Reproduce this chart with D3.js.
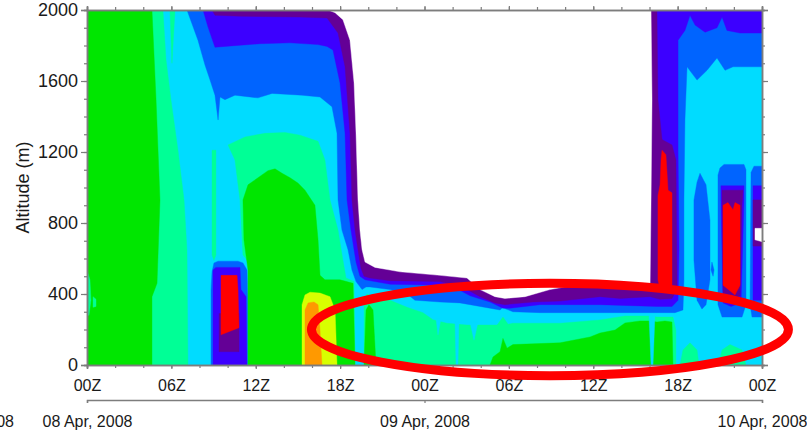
<!DOCTYPE html>
<html>
<head>
<meta charset="utf-8">
<script src="https://cdn.jsdelivr.net/npm/d3@7"></script>
<style>
  html, body { margin: 0; padding: 0; background: #ffffff; }
  svg { display: block; font-family: "Liberation Sans", Arial, Helvetica, sans-serif; }
</style>
</head>
<body>
<svg id="chart" width="807" height="436"></svg>
<script>
// ---- axes ------------------------------------------------------------
// hours since 08 Apr 2008 00Z
const hourTicks  = [0, 6, 12, 18, 24, 30, 36, 42, 48];
const hourLabels = ["00Z", "06Z", "12Z", "18Z", "00Z", "06Z", "12Z", "18Z", "00Z"];
const dayTicks   = [0, 24, 48];
const dayLabels  = ["08 Apr, 2008", "09 Apr, 2008", "10 Apr, 2008"];
const altTicks   = [0, 400, 800, 1200, 1600, 2000];

// ---- contour bands, outlines as [hour, altitude m] ---------------------
// level 4 (cyan) fills the whole domain; lower levels nest around the
// data gap, higher levels nest around the boundary-layer maxima.
const bandBlue = [
  [[7.11,2000],[48,2000],[48,1680],[45.94,1680],[45.37,1660],[44.80,1730],[44.09,1660],[43.38,1605],[42.67,1680],[42.52,1380],[42.45,930],[42.45,480],[42.38,310],[41.81,295],[40.53,295],[36.48,295],[32.21,295],[30.29,300],[29.80,315],[29.58,325],[29.37,310],[28.66,320],[27.24,340],[26.52,350],[25.10,355],[23.32,365],[22.76,400],[21.55,425],[20.12,440],[19.84,440],[19.56,425],[19.13,470],[18.84,535],[18.56,650],[18.13,760],[17.85,930],[17.78,1305],[17.42,1455],[16.57,1510],[15.29,1520],[13.16,1530],[12.16,1505],[10.52,1520],[9.81,1495],[9.46,1510],[9.32,1380],[9.10,1520],[8.75,1605],[8.39,1690],[7.89,1830]],
  [[8.82,0],[8.82,425],[8.89,525],[9.03,575],[9.32,585],[10.74,585],[11.09,575],[11.38,535],[11.45,385],[11.45,0]],
  [[43.59,1080],[44.02,1015],[44.30,815],[44.30,480],[44.02,340],[43.73,315],[43.38,365],[43.16,590],[43.16,930],[43.38,1030]],
  [[45.01,1110],[45.30,1130],[46.72,1130],[46.86,1100],[46.86,340],[46.58,270],[45.16,270],[44.87,340],[44.87,1070]],
  [[47.22,1085],[47.43,1120],[48,1120],[48,270],[47.29,270],[47.15,340]],
  [[44.44,580],[44.59,535],[44.52,500],[44.37,535]]
];

const bandViolet = [
  [[8.25,2000],[48,2000],[48,1870],[46.44,1870],[45.51,1885],[45.16,1960],[44.80,1900],[43.95,1875],[43.24,1915],[42.88,1970],[42.52,1885],[42.03,1830],[42.03,1210],[42.10,650],[42.03,365],[41.60,330],[40.53,330],[36.48,340],[32.21,340],[30.08,320],[29.58,320],[28.66,355],[27.24,390],[26.31,430],[25.10,450],[21.55,455],[19.77,480],[19.41,500],[19.13,580],[18.99,650],[18.77,760],[18.49,930],[18.35,1305],[17.99,1590],[17.49,1775],[17.07,1795],[16.43,1805],[14.44,1815],[12.30,1810],[9.81,1795],[9.10,1790],[8.60,1905]],
  [[8.96,0],[8.96,535],[9.17,550],[10.88,550],[10.95,425],[11.31,385],[11.38,0]],
  [[45.08,1010],[46.72,1010],[46.72,930],[46.51,350],[45.80,330],[45.23,350],[45.08,930]],
  [[47.36,1010],[48,1010],[48,365],[47.36,365]]
];

const bandPurple = [
  [[8.89,2000],[40.53,2000],[40.60,1495],[40.89,1270],[41.60,1240],[41.88,1155],[41.96,425],[41.60,375],[40.75,370],[40.04,385],[37.90,375],[36.48,385],[33.64,360],[31.72,355],[29.72,340],[29.01,350],[27.95,385],[27.02,425],[26.31,445],[25.10,470],[21.55,475],[20.12,490],[19.70,500],[19.48,545],[19.27,650],[19.06,760],[18.84,930],[18.70,1305],[18.35,1680],[17.85,1870],[17.07,1955],[15.15,1960],[10.88,1965],[9.10,1970]],
  [[9.39,75],[9.39,290],[10.81,290],[10.81,75]],
  [[45.16,985],[46.65,985],[46.58,900],[46.44,390],[45.80,365],[45.23,390],[45.16,900]],
  [[47.36,930],[48,930],[48,670],[47.36,670]]
];

const noData = [
  [[17.14,2000],[40.11,2000],[40.18,1495],[40.11,930],[40.04,440],[37.19,460],[34.70,450],[32.92,425],[31.15,385],[29.72,375],[29.01,385],[27.95,425],[27.02,490],[25.10,505],[22.26,525],[21.55,535],[20.48,550],[19.77,580],[19.56,650],[19.41,760],[19.27,930],[19.13,1305],[18.99,1590],[18.70,1830],[18.20,1945],[17.64,1985]],
  [[47.50,770],[48,770],[48,695],[47.50,705]]
];

const bandAqua = [
  [[0,2000],[5.40,2000],[5.62,1720],[5.97,1495],[6.47,1210],[6.90,930],[7.11,650],[7.18,0],[0,0]],
  [[5.90,2000],[6.26,2000],[6.04,1700]],
  [[8.89,1210],[9.17,1210],[9.17,620],[9.03,590],[8.89,620]],
  [[10.03,1240],[11.24,1285],[12.66,1305],[14.08,1310],[15.15,1295],[16.43,1260],[16.92,1155],[17.28,930],[17.85,760],[18.20,590],[18.42,490],[18.99,470],[19.06,0],[11.45,0],[11.45,585],[11.09,620],[10.88,930],[10.52,1155]],
  [[19.70,0],[19.70,365],[19.91,400],[20.34,385],[21.55,365],[22.76,325],[23.89,295],[24.60,255],[25.60,235],[27.02,225],[29.16,225],[29.58,270],[29.94,230],[30.29,235],[33.64,235],[36.48,254],[38.26,276],[40.04,276],[40.53,270],[41.67,270],[41.88,195],[41.88,0]],
  [[42.17,0],[42.38,85],[42.88,125],[43.38,85],[43.52,0]],
  [[44.87,0],[45.16,85],[45.72,115],[46.58,85],[46.86,0]]
];

const bandGreen = [
  [[0,2000],[4.62,2000],[4.91,1495],[5.19,930],[4.98,460],[4.62,385],[4.62,0],[0,0]],
  [[11.45,0],[11.45,535],[11.16,705],[11.09,930],[11.45,1015],[12.16,1055],[12.87,1095],[13.37,1105],[13.87,1080],[14.44,1055],[15.00,1025],[15.50,985],[16.21,900],[16.43,705],[16.57,505],[16.92,480],[17.99,480],[18.92,460],[19.06,0]],
  [[19.70,0],[19.84,310],[20.05,340],[20.34,310],[20.55,0]],
  [[28.66,0],[28.87,45],[29.37,75],[29.58,150],[29.87,95],[30.29,115],[33.64,125],[35.77,158],[36.48,180],[37.55,197],[38.26,237],[39.32,248],[40.04,248],[40.53,242],[41.10,248],[41.60,242],[41.67,0]]
];

const bandYellow = [
  [[15.29,0],[15.29,340],[15.50,395],[15.86,410],[16.57,405],[17.28,385],[17.64,310],[17.78,0]]
];

const bandOrange = [
  [[15.50,0],[15.50,310],[15.72,350],[16.14,355],[16.43,340],[16.57,195],[16.71,0]]
];

// small pockets of lower values sitting inside the higher bands
const cyanPockets = [
  [[24.82,262],[24.96,170],[25.17,262]],
  [[26.17,245],[26.45,245],[26.38,0],[26.24,0]],
  [[27.24,240],[27.52,140],[27.80,240]],
  [[39.96,285],[40.39,285],[40.25,0],[40.11,0]]
];
const aquaPockets = [
  [[0,535],[0.21,480],[0.28,365],[0.14,280],[0,280]],
  [[0.43,385],[0.64,370],[0.64,330],[0.43,325]]
];

// cloud overlay
const cloud = [
  [[9.53,505],[10.67,505],[10.74,425],[10.81,210],[10.17,190],[9.53,170]],
  [[40.89,1210],[41.17,1185],[41.32,985],[41.60,970],[41.60,450],[41.32,415],[40.75,425],[40.60,480],[40.60,955],[40.75,1015],[40.82,1155]],
  [[45.23,900],[45.58,915],[45.80,890],[45.94,875],[46.08,915],[46.44,900],[46.44,450],[46.08,395],[45.23,450]]
];

// highlighted region (hours / metres)
const highlight = { hour: 32.92, alt: 200, halfHours: 16.96, halfAlt: 260 };

// ---- drawing --------------------------------------------------------
const colors = {
  purple: "#640096", violet: "#3c00ff", blue: "#0064ff", cyan: "#00dcff",
  aqua: "#00ff96", green: "#00e600", yellow: "#d8ff00", orange: "#ff9900",
  cloud: "#ff0000", gap: "#ffffff"
};

const svg = d3.select("#chart");
const x = d3.scaleLinear().domain([0, 48]).range([87, 762]);
const y = d3.scaleLinear().domain([0, 2000]).range([365, 10]);

svg.append("defs").append("clipPath").attr("id", "plot-clip")
  .append("rect")
  .attr("x", x(0)).attr("y", y(2000))
  .attr("width", x(48) - x(0)).attr("height", y(0) - y(2000));

const field = svg.append("g").attr("clip-path", "url(#plot-clip)");

field.append("rect")
  .attr("x", x(0)).attr("y", y(2000))
  .attr("width", x(48) - x(0)).attr("height", y(0) - y(2000))
  .attr("fill", colors.cyan);

const outline = d3.line()
  .x(d => x(d[0]))
  .y(d => y(d[1]))
  .curve(d3.curveLinearClosed);

const layers = [
  [bandBlue, colors.blue],
  [bandViolet, colors.violet],
  [bandPurple, colors.purple],
  [noData, colors.gap],
  [bandAqua, colors.aqua],
  [bandGreen, colors.green],
  [bandYellow, colors.yellow],
  [bandOrange, colors.orange],
  [cyanPockets, colors.cyan],
  [aquaPockets, colors.aqua],
  [cloud, colors.cloud]
];

layers.forEach(([rings, fill]) => {
  field.append("g").selectAll("path")
    .data(rings)
    .join("path")
    .attr("d", outline)
    .attr("fill", fill)
    .attr("stroke", fill)
    .attr("stroke-width", 0.4)
    .attr("stroke-linejoin", "round");
});

// ---- axes ------------------------------------------------------------
const axisColor = "#7d7d7d";
const minorAlt = d3.range(0, 2001, 100);
const minorHour = d3.range(0, 49, 2);

function styleAxis(g) {
  g.select(".domain").attr("stroke", axisColor).attr("stroke-width", 1.5);
  g.selectAll(".tick line").attr("stroke", axisColor).attr("stroke-width", 1.2);
  g.selectAll(".tick text").attr("fill", "#1a1a1a").attr("font-family", "'Liberation Sans', Arial, sans-serif");
}

svg.append("g").attr("transform", `translate(${x(0)},0)`)
  .call(d3.axisLeft(y).tickValues(minorAlt).tickSize(3).tickFormat(""))
  .call(styleAxis);
svg.append("g").attr("transform", `translate(${x(0)},0)`)
  .call(d3.axisLeft(y).tickValues(altTicks).tickSize(6).tickPadding(3).tickFormat(d3.format("d")))
  .call(styleAxis)
  .call(g => g.selectAll(".tick text").attr("font-size", 18));

svg.append("g").attr("transform", `translate(${x(48)},0)`)
  .call(d3.axisRight(y).tickValues(minorAlt).tickSize(3).tickFormat(""))
  .call(styleAxis);
svg.append("g").attr("transform", `translate(${x(48)},0)`)
  .call(d3.axisRight(y).tickValues(altTicks).tickSize(6).tickFormat(""))
  .call(styleAxis);

svg.append("g").attr("transform", `translate(0,${y(2000)})`)
  .call(d3.axisTop(x).tickValues(minorHour).tickSize(3).tickFormat(""))
  .call(styleAxis);
svg.append("g").attr("transform", `translate(0,${y(2000)})`)
  .call(d3.axisTop(x).tickValues(hourTicks).tickSize(4).tickFormat(""))
  .call(styleAxis);

svg.append("g").attr("transform", `translate(0,${y(0)})`)
  .call(d3.axisBottom(x).tickValues(minorHour).tickSize(3).tickFormat(""))
  .call(styleAxis);
svg.append("g").attr("transform", `translate(0,${y(0)})`)
  .call(d3.axisBottom(x).tickValues(hourTicks).tickSize(4).tickPadding(11)
    .tickFormat((d, i) => hourLabels[i]))
  .call(styleAxis)
  .call(g => g.selectAll(".tick text").attr("font-size", 16));

// date axis below the hour labels
const dateAxis = svg.append("g").attr("transform", "translate(0,400)")
  .call(d3.axisBottom(x).tickValues(dayTicks).tickSize(3).tickPadding(13)
    .tickFormat((d, i) => dayLabels[i]))
  .call(styleAxis)
  .call(g => g.selectAll(".tick text").attr("font-size", 16));

svg.append("text")
  .attr("x", x(0) - 73).attr("y", 427)
  .attr("text-anchor", "end")
  .attr("font-size", 16).attr("fill", "#1a1a1a")
  .text("07 Apr, 2008");

// y title
svg.append("text")
  .attr("transform", `translate(29,${y(1000)}) rotate(-90)`)
  .attr("text-anchor", "middle")
  .attr("font-size", 18).attr("fill", "#1a1a1a")
  .text("Altitude (m)");

// highlight ring
svg.append("ellipse")
  .attr("cx", x(highlight.hour))
  .attr("cy", y(highlight.alt))
  .attr("rx", x(highlight.hour + highlight.halfHours) - x(highlight.hour))
  .attr("ry", y(0) - y(highlight.halfAlt))
  .attr("fill", "none")
  .attr("stroke", "#ff0000")
  .attr("stroke-width", 9);
</script>
</body>
</html>
